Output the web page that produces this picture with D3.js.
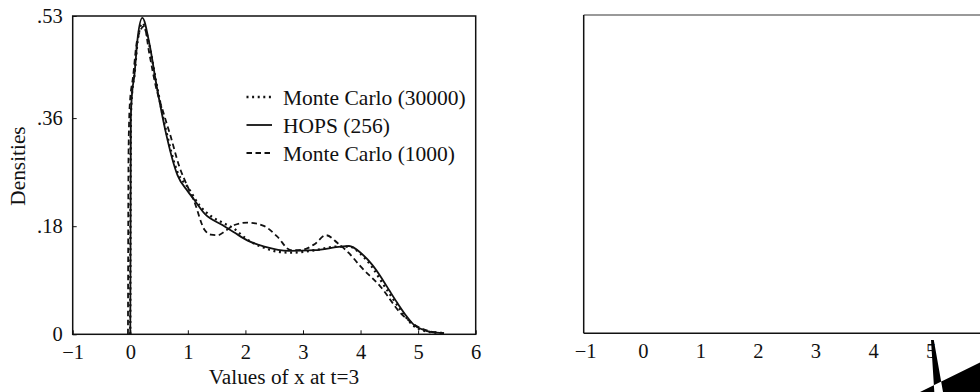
<!DOCTYPE html>
<html>
<head>
<meta charset="utf-8">
<script src="https://cdn.jsdelivr.net/npm/d3@7"></script>
<style>
  html, body { margin: 0; padding: 0; background: #fff; }
  svg { display: block; }
  text { font-family: "Liberation Serif", "Times New Roman", serif; fill: #111; }
</style>
</head>
<body>
<svg id="chart" width="980" height="392"></svg>
<script>
// Density estimates of x at t=3
const xTickLabels = [-1, 0, 1, 2, 3, 4, 5, 6];
const yTickValues = [0, 0.18, 0.36, 0.53];
const yTickLabels = ["0", ".18", ".36", ".53"];

const seriesNames = ["Monte Carlo (30000)", "HOPS (256)", "Monte Carlo (1000)"];

const mc30000X = [0, 0.01, 0.03, 0.07, 0.13, 0.21, 0.33, 0.45, 0.62, 0.82, 1.0, 1.2, 1.4, 1.6, 1.8, 2.0, 2.3, 2.6, 2.8, 3.2, 3.6, 3.8, 4.0, 4.2, 4.35, 4.5, 4.7, 4.9, 5.1, 5.3, 5.45];
const mc30000Y = [0, 0.36, 0.40, 0.43, 0.49, 0.518, 0.482, 0.42, 0.34, 0.27, 0.245, 0.215, 0.197, 0.186, 0.176, 0.160, 0.145, 0.137, 0.136, 0.140, 0.146, 0.146, 0.134, 0.112, 0.090, 0.068, 0.040, 0.016, 0.006, 0.003, 0.002];

const hopsX = [0, 0.01, 0.03, 0.07, 0.13, 0.21, 0.33, 0.45, 0.62, 0.82, 1.0, 1.11, 1.3, 1.6, 1.8, 2.04, 2.33, 2.76, 3.2, 3.66, 3.8, 4.01, 4.2, 4.35, 4.5, 4.64, 4.8, 4.93, 5.1, 5.22, 5.45];
const hopsY = [0, 0.36, 0.40, 0.43, 0.495, 0.527, 0.485, 0.418, 0.335, 0.265, 0.238, 0.224, 0.200, 0.182, 0.170, 0.156, 0.146, 0.139, 0.140, 0.146, 0.147, 0.135, 0.116, 0.096, 0.073, 0.052, 0.030, 0.0155, 0.007, 0.004, 0.002];

const mc1000X = [-0.04, -0.03, -0.01, 0.05, 0.12, 0.24, 0.33, 0.45, 0.56, 0.7, 0.85, 1.0, 1.1, 1.29, 1.4, 1.52, 1.65, 1.81, 2.04, 2.33, 2.55, 2.79, 3.0, 3.2, 3.4, 3.6, 3.8, 4.0, 4.35, 4.7, 4.99, 5.2, 5.45];
const mc1000Y = [0, 0.30, 0.38, 0.43, 0.49, 0.513, 0.468, 0.41, 0.374, 0.33, 0.28, 0.245, 0.224, 0.174, 0.166, 0.165, 0.172, 0.182, 0.186, 0.180, 0.163, 0.140, 0.141, 0.150, 0.165, 0.152, 0.135, 0.113, 0.079, 0.035, 0.013, 0.005, 0.002];

const dashStyles = ["2,3.6", null, "5.5,3.5"];

const svg = d3.select("#chart");

// ---------- left panel ----------
const L = { left: 72.7, right: 475.7, top: 16, bottom: 334.3 };
const x = d3.scaleLinear().domain([-1, 6]).range([L.left, L.right]);
const y = d3.scaleLinear().domain([0, 0.53]).range([L.bottom, L.top]);

const gL = svg.append("g");

const series = [
  mc30000X.map((v, i) => [v, mc30000Y[i]]),
  hopsX.map((v, i) => [v, hopsY[i]]),
  mc1000X.map((v, i) => [v, mc1000Y[i]])
];

const line = d3.line()
  .x(d => x(d[0]))
  .y(d => y(d[1]))
  .curve(d3.curveMonotoneX);

series.forEach((s, i) => {
  gL.append("path")
    .attr("d", line(s))
    .attr("fill", "none")
    .attr("stroke", "#111")
    .attr("stroke-width", i === 0 ? 2.3 : 1.8)
    .attr("stroke-dasharray", dashStyles[i]);
});

// frame
gL.append("rect")
  .attr("x", L.left).attr("y", L.top)
  .attr("width", L.right - L.left).attr("height", L.bottom - L.top)
  .attr("fill", "none").attr("stroke", "#111").attr("stroke-width", 1.5);

// x axis
const xAxis = d3.axisBottom(x).tickValues(xTickLabels)
  .tickSizeInner(-4).tickSizeOuter(0).tickPadding(10)
  .tickFormat(d => d < 0 ? "\u2212" + Math.abs(d) : String(d));
const gx = gL.append("g").attr("transform", `translate(0,${L.bottom})`).call(xAxis);
gx.select(".domain").remove();
gx.selectAll(".tick line").attr("stroke", "#111").attr("stroke-width", 1);
gx.selectAll("text").attr("font-size", 20.5).attr("font-family", "Liberation Serif").attr("fill", "#111");

// y axis
const yAxis = d3.axisLeft(y).tickValues(yTickValues)
  .tickSizeInner(-4).tickSizeOuter(0).tickPadding(10)
  .tickFormat((d, i) => yTickLabels[i]);
const gy = gL.append("g").attr("transform", `translate(${L.left},0)`).call(yAxis);
gy.select(".domain").remove();
gy.selectAll(".tick line").attr("stroke", "#111").attr("stroke-width", 1);
gy.selectAll("text").attr("font-size", 20.5).attr("font-family", "Liberation Serif").attr("fill", "#111");

// axis titles
gL.append("text")
  .attr("x", 284).attr("y", 384)
  .attr("text-anchor", "middle").attr("font-size", 21.3)
  .text("Values of x at t=3");
gL.append("text")
  .attr("transform", "translate(25,166) rotate(-90)")
  .attr("text-anchor", "middle").attr("font-size", 21.3)
  .text("Densities");

// legend
const legend = gL.append("g");
seriesNames.forEach((name, i) => {
  const cy = 97 + i * 28;
  legend.append("line")
    .attr("x1", 246.5).attr("x2", 272).attr("y1", cy).attr("y2", cy)
    .attr("stroke", "#111")
    .attr("stroke-width", i === 0 ? 2.3 : 1.8)
    .attr("stroke-dasharray", dashStyles[i]);
  legend.append("text")
    .attr("x", 283).attr("y", cy).attr("dy", "0.35em")
    .attr("font-size", 21.5)
    .text(name);
});

// ---------- right panel (empty frame) ----------
const R = { left: 583.7, top: 15, bottom: 333.3 };
const x2 = d3.scaleLinear().domain([-1, 6]).range([R.left, R.left + (L.right - L.left)]);
const gR = svg.append("g");

gR.append("line")
  .attr("x1", R.left).attr("x2", 980).attr("y1", R.top).attr("y2", R.top)
  .attr("stroke", "#777").attr("stroke-width", 1.5);
gR.append("line")
  .attr("x1", R.left).attr("x2", 980).attr("y1", R.bottom).attr("y2", R.bottom)
  .attr("stroke", "#111").attr("stroke-width", 1.5);
gR.append("line")
  .attr("x1", R.left).attr("x2", R.left).attr("y1", R.top).attr("y2", R.bottom)
  .attr("stroke", "#111").attr("stroke-width", 1.5);

const xAxis2 = d3.axisBottom(x2).tickValues(xTickLabels.slice(0, 7))
  .tickSize(0).tickPadding(10)
  .tickFormat(d => d < 0 ? "\u2212" + Math.abs(d) : String(d));
const gx2 = gR.append("g").attr("transform", `translate(1.5,${R.bottom})`).call(xAxis2);
gx2.select(".domain").remove();
gx2.selectAll("text").attr("font-size", 20.5).attr("font-family", "Liberation Serif").attr("fill", "#111");

// corner ornament (even-odd fill)
gR.append("path")
  .attr("d", "M931,340 L933.8,340 L943,392 L934.3,392 Z M920,392 L980,362.5 L980,392 Z")
  .attr("fill", "#000").attr("fill-rule", "evenodd");
</script>
</body>
</html>
